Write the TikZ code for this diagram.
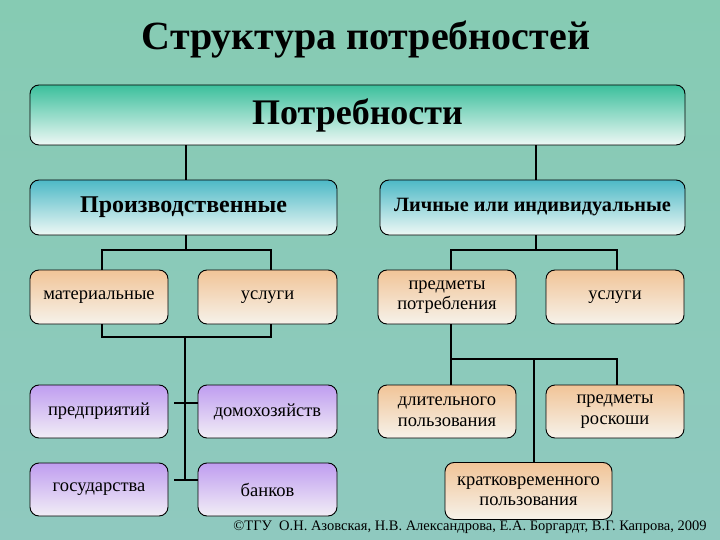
\documentclass[tikz,border=0pt]{standalone}
\usepackage{fontspec}
\setmainfont{Liberation Serif}
\newfontfamily\serifx{Liberation Serif}
\definecolor{bgtop}{HTML}{86CBB3}
\definecolor{bgmid}{HTML}{CFEAE2}
\definecolor{bgbot}{HTML}{8FC9BF}
\definecolor{tealtop}{HTML}{3BBF9C}
\definecolor{cyantop}{HTML}{4DB9C6}
\definecolor{boxlight}{HTML}{EEF8F5}
\definecolor{peachtop}{HTML}{F1C497}
\definecolor{peachbot}{HTML}{F6F2EA}
\definecolor{lavtop}{HTML}{BF9DF0}
\definecolor{lavbot}{HTML}{F2EEF6}
\tikzset{
  box/.style={draw=black, line width=0.9pt, rounded corners=9pt, inner sep=2pt, align=center, font=\serifx\fontsize{18.5}{20.5}\selectfont},
  topbox/.style={box, top color=tealtop, middle color=boxlight!75!tealtop, bottom color=boxlight},
  secbox/.style={box, top color=cyantop, middle color=boxlight!80!cyantop, bottom color=boxlight},
  peach/.style={box, top color=peachtop, bottom color=peachbot},
  lav/.style={box, top color=lavtop, bottom color=lavbot},
  wire/.style={draw=black, line width=2pt},
}
\begin{document}
\begin{tikzpicture}[x=1pt,y=-1pt]
\useasboundingbox (0,0) rectangle (720,540);
\shade[top color=bgtop, middle color=bgmid, bottom color=bgbot] (0,0) rectangle (720,540);
\node[font=\serifx] (title) at (366,40) {\fontsize{40}{44}\selectfont\bfseries Структура потребностей};
\node[topbox, minimum width=655pt, minimum height=60pt] (top) at (357.5,115) {\fontsize{36}{40}\selectfont\bfseries Потребности};
\node[secbox, minimum width=307pt, minimum height=55pt] (prod) at (183.5,207.5) {\fontsize{24}{28}\selectfont\bfseries Производственные};
\node[secbox, minimum width=305pt, minimum height=55pt] (pers) at (532.5,207.5) {\fontsize{20.3}{23}\selectfont\bfseries Личные или индивидуальные};
\node[peach, minimum width=138pt, minimum height=54pt] (mat) at (99,297) {материальные};
\node[peach, minimum width=139pt, minimum height=54pt] (usl1) at (267.5,297) {услуги};
\node[peach, minimum width=138pt, minimum height=54pt] (predm) at (447,297) {предметы\\потребления};
\node[peach, minimum width=138pt, minimum height=54pt] (usl2) at (615,297) {услуги};
\node[lav, minimum width=138pt, minimum height=53pt] (predpr) at (99,411.5) {предприятий};
\node[lav, minimum width=139pt, minimum height=53pt] (domo) at (267.5,411.5) {домохозяйств};
\node[peach, minimum width=138pt, minimum height=53pt] (dlit) at (447,411.5) {длительного\\пользования};
\node[peach, minimum width=138pt, minimum height=53pt] (rosk) at (615,411.5) {предметы\\роскоши};
\node[lav, minimum width=138pt, minimum height=53pt] (gos) at (99,489.5) {государства};
\node[lav, minimum width=139pt, minimum height=53pt] (bank) at (267.5,489.5) {банков};
\node[peach, minimum width=167pt, minimum height=57pt] (krat) at (528.5,491) {кратковременного\\пользования};
\node[font=\serifx] (foot) at (470,527) {\fontsize{14.5}{16}\selectfont ©ТГУ\ \ О.Н. Азовская, Н.В. Александрова, Е.А. Боргардт, В.Г. Капрова, 2009};
% connectors
\coordinate (j1) at (186,250);
\coordinate (j2) at (536,250);
\coordinate (hub) at (185,337);
\coordinate (hubend) at (185,480);
\coordinate (rj) at (451,359);
\draw[wire] (j1 |- top.south) -- (j1 |- prod.north);
\draw[wire] (j2 |- top.south) -- (j2 |- pers.north);
\draw[wire] (j1 |- prod.south) -- (j1);
\draw[wire] (j2 |- pers.south) -- (j2);
\draw[wire] ([xshift=3pt]mat.north) |- (j1) -| ([xshift=3pt]usl1.north);
\draw[wire] ([xshift=4pt]predm.north) |- (j2) -| ([xshift=2pt]usl2.north);
\draw[wire] ([xshift=3pt]mat.south) |- (hub) -| ([xshift=3pt]usl1.south);
\draw[wire] (hub) -- (hubend);
\draw[wire] ([xshift=6pt,yshift=9pt]predpr.east) -- ([yshift=9pt]domo.west);
\draw[wire] ([xshift=6pt,yshift=9.5pt]gos.east) -- ([yshift=9.5pt]bank.west);
\draw[wire] ([xshift=4pt]predm.south) -- ([xshift=4pt]dlit.north);
\draw[wire] (rj) -| ([xshift=2pt]rosk.north);
\draw[wire] ([xshift=5.5pt]krat.north) -- ([xshift=5.5pt]krat.north |- rj);
\end{tikzpicture}
\end{document}
